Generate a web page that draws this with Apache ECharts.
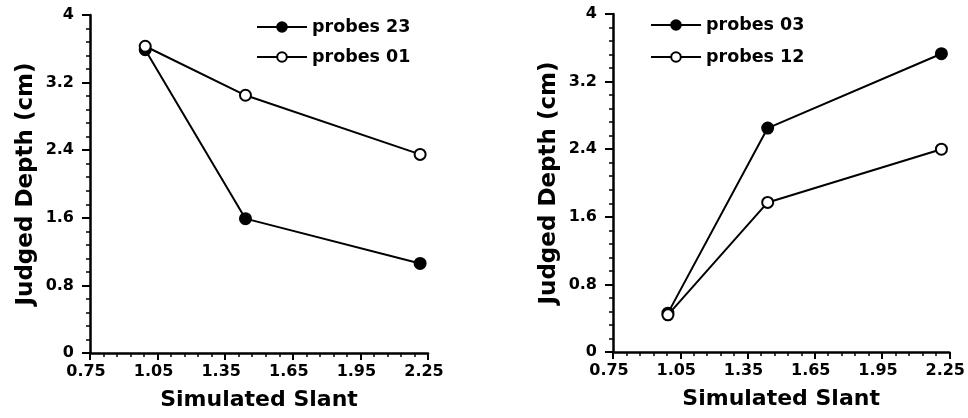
<!DOCTYPE html>
<html>
<head>
<meta charset="utf-8">
<script src="https://cdn.jsdelivr.net/npm/echarts@6/dist/echarts.min.js"></script>
<style>
  html, body { margin: 0; padding: 0; background: #fff; }
  #chart { width: 968px; height: 418px; }
</style>
</head>
<body>
<div id="chart"></div>
<script>
// Simulated slant conditions (x) shared by both panels
const slant = [0.995, 1.44, 2.215];

// Left panel: judged depth (cm)
const probes23 = [3.59, 1.59, 1.06];
const probes01 = [3.63, 3.05, 2.35];

// Right panel: judged depth (cm)
const probes03 = [0.46, 2.65, 3.53];
const probes12 = [0.44, 1.77, 2.40];

// Tick labels
const xTickLabels = ['0.75', '1.05', '1.35', '1.65', '1.95', '2.25'];
const yTickLabels = ['0', '0.8', '1.6', '2.4', '3.2', '4'];

const X_MIN = 0.75, X_MAX = 2.25, X_STEP = 0.3;
const Y_MIN = 0, Y_MAX = 4, Y_STEP = 0.8;

const FONT = 'DejaVu Sans';

function pairs(xs, ys) {
  return xs.map((x, i) => [x, ys[i]]);
}

function xAxisFor(gridIndex) {
  return {
    type: 'value', gridIndex,
    min: X_MIN, max: X_MAX, interval: X_STEP,
    name: 'Simulated Slant', nameLocation: 'middle', nameGap: 36,
    nameTextStyle: { fontFamily: FONT, fontWeight: 'bold', fontSize: 22, color: '#000' },
    axisLine: { show: true, lineStyle: { color: '#000', width: 2.5 } },
    axisTick: { show: true, length: 7, lineStyle: { color: '#000', width: 2 } },
    minorTick: { show: true, splitNumber: 5, length: 4, lineStyle: { color: '#000', width: 1.5 } },
    splitLine: { show: false },
    axisLabel: {
      fontFamily: FONT, fontWeight: 'bold', fontSize: 16, color: '#000', margin: 11,
      padding: [0, 8, 0, 0],
      formatter: v => xTickLabels[Math.round((v - X_MIN) / X_STEP)] ?? ''
    }
  };
}

function yAxisFor(gridIndex) {
  return {
    type: 'value', gridIndex,
    min: Y_MIN, max: Y_MAX, interval: Y_STEP,
    name: 'Judged Depth (cm)', nameLocation: 'middle', nameGap: 52,
    nameTextStyle: { fontFamily: FONT, fontWeight: 'bold', fontSize: 23, color: '#000' },
    axisLine: { show: true, lineStyle: { color: '#000', width: 2.5 } },
    axisTick: { show: true, length: 8, lineStyle: { color: '#000', width: 2 } },
    minorTick: { show: true, splitNumber: 5, length: 4, lineStyle: { color: '#000', width: 1.5 } },
    splitLine: { show: false },
    axisLabel: {
      fontFamily: FONT, fontWeight: 'bold', fontSize: 16, color: '#000', margin: 16,
      formatter: v => yTickLabels[Math.round((v - Y_MIN) / Y_STEP)] ?? ''
    }
  };
}

function lineSeries(name, ys, filled, idx) {
  return {
    name, type: 'line',
    xAxisIndex: idx, yAxisIndex: idx,
    data: pairs(slant, ys),
    symbol: 'circle', symbolSize: 11,
    lineStyle: { color: '#000', width: 2 },
    itemStyle: { color: filled ? '#000' : '#fff', borderColor: '#000', borderWidth: 2 },
    emphasis: { disabled: true },
    animation: false
  };
}

const legendText = { fontFamily: FONT, fontWeight: 'bold', fontSize: 17.5, color: '#000' };

const option = {
  backgroundColor: '#fff',
  animation: false,
  grid: [
    { left: 90, top: 15, width: 338, height: 338 },
    { left: 613, top: 14, width: 338, height: 338 }
  ],
  xAxis: [xAxisFor(0), xAxisFor(1)],
  yAxis: [yAxisFor(0), yAxisFor(1)],
  legend: [
    {
      data: ['probes 23', 'probes 01'],
      orient: 'vertical', left: 256, top: 18, padding: 0,
      itemWidth: 50, itemHeight: 12, itemGap: 12,
      textStyle: legendText, selectedMode: false
    },
    {
      data: ['probes 03', 'probes 12'],
      orient: 'vertical', left: 650, top: 16, padding: 0,
      itemWidth: 50, itemHeight: 12, itemGap: 14,
      textStyle: legendText, selectedMode: false
    }
  ],
  series: [
    lineSeries('probes 23', probes23, true, 0),
    lineSeries('probes 01', probes01, false, 0),
    lineSeries('probes 03', probes03, true, 1),
    lineSeries('probes 12', probes12, false, 1)
  ]
};

const chart = echarts.init(document.getElementById('chart'), null, { renderer: 'canvas' });
chart.setOption(option);
</script>
</body>
</html>
